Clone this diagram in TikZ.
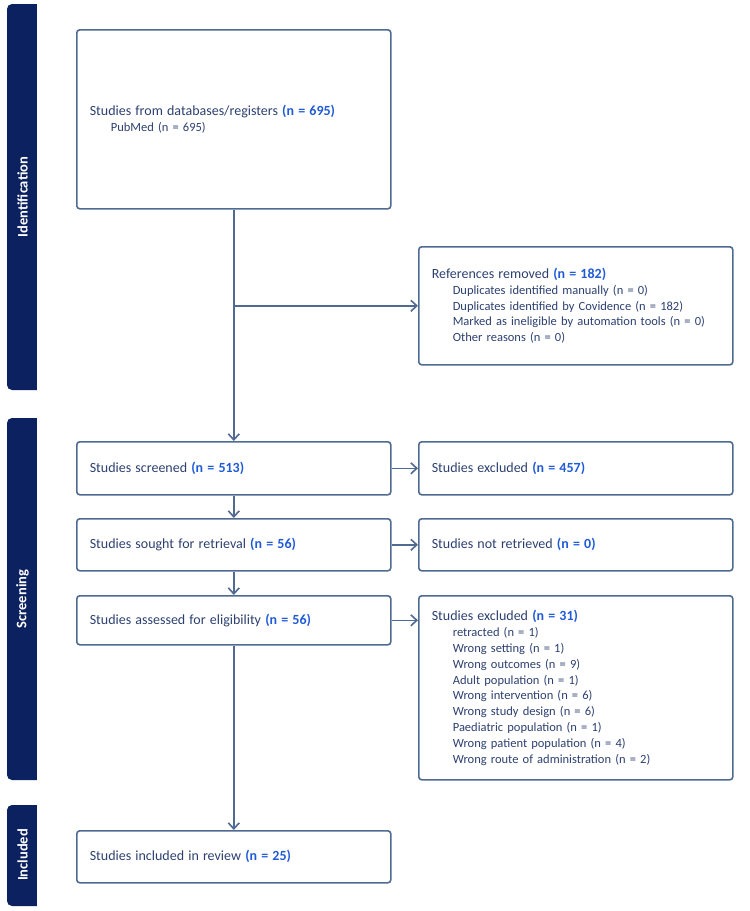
\documentclass[tikz,border=0pt]{standalone}
\usepackage{fontspec}
\setmainfont{Carlito}
\usetikzlibrary{arrows.meta}
\definecolor{barc}{RGB}{12,34,96}
\definecolor{edgec}{RGB}{80,106,145}
\definecolor{txtc}{RGB}{44,64,112}
\definecolor{numc}{RGB}{32,90,215}
\newcommand\nval[1]{\textbf{\color{numc}#1}}
\newcommand\mainfs{\fontsize{14}{17}\selectfont}
\newcommand\subfs{\fontsize{12.5}{15.8}\selectfont}
\newcommand\subl[1]{\\\hspace*{21pt}{\subfs #1}}
\begin{document}
\begin{tikzpicture}[x=1pt,y=-1pt,
  box/.style={draw=edgec, line width=1.6pt, rounded corners=3pt, text=txtc,
    align=left, inner xsep=13pt, inner ysep=0pt, anchor=north west,
    font=\subfs, text width=288pt},
  sidelabel/.style={text=white, font=\fontsize{14.5}{16}\selectfont\bfseries, rotate=90},
  arr/.style={draw=edgec, line width=1.6pt, -{Straight Barb[length=6pt,width=11pt,line width=1.6pt]}}]
\useasboundingbox (0,0) rectangle (750,911);

% side bars
\fill[barc, rounded corners=5pt] (7,4) rectangle (45,390);
\fill[white] (37,0) rectangle (46,395);
\fill[barc, rounded corners=5pt] (7,418) rectangle (45,780);
\fill[white] (37,414) rectangle (46,785);
\fill[barc, rounded corners=5pt] (7,805) rectangle (45,906);
\fill[white] (37,800) rectangle (46,910);
\node[sidelabel] (lid) at (22.5,197) {Identification};
\node[sidelabel] (lscr) at (22.5,599) {Screening};
\node[sidelabel] (linc) at (22.5,855) {Included};

% boxes
\node[box, minimum height=179pt] (top) at (76,29)
  {{\mainfs Studies from databases/registers \nval{(n = 695)}}\subl{PubMed (n = 695)}};
\node[box, minimum height=118pt] (ref) at (418,246)
  {{\mainfs References removed \nval{(n = 182)}}\\\hspace*{21pt}Duplicates identified manually (n = 0)
   \subl{Duplicates identified by Covidence (n = 182)}
   \subl{Marked as ineligible by automation tools (n = 0)}
   \subl{Other reasons (n = 0)}};
\node[box, minimum height=53pt] (scr) at (76,441)
  {{\mainfs Studies screened \nval{(n = 513)}}};
\node[box, minimum height=53pt] (exa) at (418,441)
  {{\mainfs Studies excluded \nval{(n = 457)}}};
\node[box, minimum height=52pt] (sou) at (76,518)
  {{\mainfs Studies sought for retrieval \nval{(n = 56)}}};
\node[box, minimum height=52pt] (nre) at (418,518)
  {{\mainfs Studies not retrieved \nval{(n = 0)}}};
\node[box, minimum height=49pt] (ass) at (76,595)
  {{\mainfs Studies assessed for eligibility \nval{(n = 56)}}};
\node[box, minimum height=184pt] (exb) at (418,595)
  {{\mainfs Studies excluded \nval{(n = 31)}}\\\hspace*{21pt}retracted (n = 1)
   \subl{Wrong setting (n = 1)}
   \subl{Wrong outcomes (n = 9)}
   \subl{Adult population (n = 1)}
   \subl{Wrong intervention (n = 6)}
   \subl{Wrong study design (n = 6)}
   \subl{Paediatric population (n = 1)}
   \subl{Wrong patient population (n = 4)}
   \subl{Wrong route of administration (n = 2)}};
\node[box, minimum height=52pt] (inc) at (76,830)
  {{\mainfs Studies included in review \nval{(n = 25)}}};

% connectors
\draw[arr] (top.south) -- (scr.north);
\draw[arr] (top.south |- ref.west) -- (ref.west);
\draw[arr] (scr.south) -- (sou.north);
\draw[arr] (sou.south) -- (ass.north);
\draw[arr] (ass.south) -- (inc.north);
\draw[arr] (scr.east) -- (exa.west);
\draw[arr] (sou.east) -- (nre.west);
\draw[arr] (ass.east) -- (ass.east -| exb.west);
\end{tikzpicture}
\end{document}
